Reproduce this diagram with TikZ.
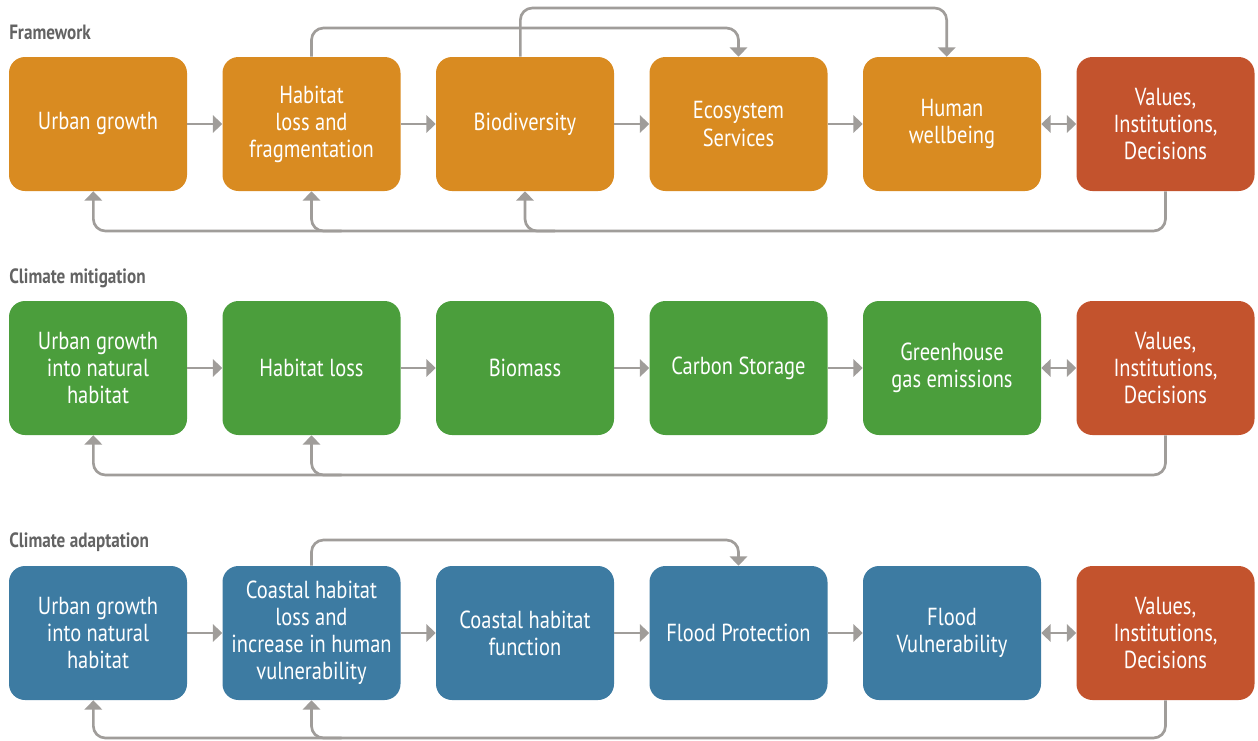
\documentclass[tikz,border=0pt]{standalone}
\usepackage{fontspec}
\setmainfont{PT Sans}[FakeStretch=0.83]
\usetikzlibrary{arrows.meta,calc}
\definecolor{orng}{HTML}{D98B21}
\definecolor{rust}{HTML}{C3532D}
\definecolor{grn}{HTML}{4B9E3C}
\definecolor{blu}{HTML}{3D7BA2}
\definecolor{lngray}{HTML}{A09D9A}
\definecolor{lblgray}{HTML}{636363}
\begin{document}
\begin{tikzpicture}[x=0.75pt,y=-0.75pt,
  box/.style={rectangle, rounded corners=12pt, minimum width=133.5pt, minimum height=100.5pt,
    text=white, align=center, font=\fontsize{18.5}{20.3}\selectfont, inner sep=0pt},
  sect/.style={anchor=base west, text=lblgray, font=\fontsize{15.5}{17}\selectfont\bfseries, inner sep=0pt},
  ln/.style={draw=lngray, line width=2pt, rounded corners=9pt},
  arr/.style={ln, -{Triangle[length=7pt,width=13pt]}, fill=none},
  darr/.style={ln, {Triangle[length=7pt,width=13pt]}-{Triangle[length=7pt,width=13pt]}}
]
\useasboundingbox (0,0) rectangle (1258,740);

% section labels
\node[sect] (s1) at (9,39) {Framework};
\node[sect] (s2) at (9,283) {Climate mitigation};
\node[sect] (s3) at (9,547) {Climate adaptation};

% row 1
\node[box, fill=orng] (a1) at (98,124) {\raisebox{4pt}{Urban growth}};
\node[box, fill=orng] (a2) at (311.5,124) {Habitat\\loss and\\fragmentation};
\node[box, fill=orng] (a3) at (525,124) {Biodiversity};
\node[box, fill=orng] (a4) at (738.5,124) {Ecosystem\\Services};
\node[box, fill=orng] (a5) at (952,124) {Human\\wellbeing};
\node[box, fill=rust] (a6) at (1165.5,124) {Values,\\Institutions,\\Decisions};

% row 2
\node[box, fill=grn] (b1) at (98,368) {Urban growth\\into natural\\habitat};
\node[box, fill=grn] (b2) at (311.5,368) {Habitat loss};
\node[box, fill=grn] (b3) at (525,368) {Biomass};
\node[box, fill=grn] (b4) at (738.5,368) {Carbon Storage};
\node[box, fill=grn] (b5) at (952,368) {Greenhouse\\gas emissions};
\node[box, fill=rust] (b6) at (1165.5,368) {Values,\\Institutions,\\Decisions};

% row 3
\node[box, fill=blu] (c1) at (98,633) {Urban growth\\into natural\\habitat};
\node[box, fill=blu] (c2) at (311.5,633) {Coastal habitat\\loss and\\increase in human\\vulnerability};
\node[box, fill=blu] (c3) at (525,633) {Coastal habitat\\function};
\node[box, fill=blu] (c4) at (738.5,633) {Flood Protection};
\node[box, fill=blu] (c5) at (952,633) {Flood\\Vulnerability};
\node[box, fill=rust] (c6) at (1165.5,633) {Values,\\Institutions,\\Decisions};

% helper levels
\coordinate (ta) at (0,28);
\coordinate (tb) at (0,8);
\coordinate (ra) at (0,231);
\coordinate (rb) at (0,475);
\coordinate (tc) at (0,540);
\coordinate (rc) at (0,738);

% forward arrows
\foreach \r in {a,b,c}{
  \draw[arr] (\r1) -- (\r2);
  \draw[arr] (\r2) -- (\r3);
  \draw[arr] (\r3) -- (\r4);
  \draw[arr] (\r4) -- (\r5);
  \draw[darr] (\r5) -- (\r6);
}

% row 1 top arrows
\draw[arr] (a2.north) -- (a2.north |- ta) -- (a4.north |- ta) -- (a4.north);
\draw[arr] ([xshift=-3.5pt]a3.north) -- ([xshift=-3.5pt]a3.north |- tb) -- ([xshift=-4pt]a5.north |- tb) -- ([xshift=-4pt]a5.north);

% row 1 back arrows
\draw[arr] (a6.south) -- (a6.south |- ra) -- ([xshift=-3.5pt]a1.south |- ra) -- ([xshift=-3.5pt]a1.south);
\draw[arr] ($(a2.south |- ra)+(30,0)$) -- (a2.south |- ra) -- (a2.south);
\draw[arr] ($(a3.south |- ra)+(30,0)$) -- (a3.south |- ra) -- (a3.south);

% row 2 back arrows
\draw[arr] (b6.south) -- (b6.south |- rb) -- ([xshift=-3.5pt]b1.south |- rb) -- ([xshift=-3.5pt]b1.south);
\draw[arr] ($(b2.south |- rb)+(30,0)$) -- (b2.south |- rb) -- (b2.south);

% row 3 top arrow
\draw[arr] (c2.north) -- (c2.north |- tc) -- (c4.north |- tc) -- (c4.north);

% row 3 back arrows
\draw[arr] (c6.south) -- (c6.south |- rc) -- ([xshift=-3.5pt]c1.south |- rc) -- ([xshift=-3.5pt]c1.south);
\draw[arr] ($(c2.south |- rc)+(30,0)$) -- (c2.south |- rc) -- (c2.south);
\end{tikzpicture}
\end{document}
